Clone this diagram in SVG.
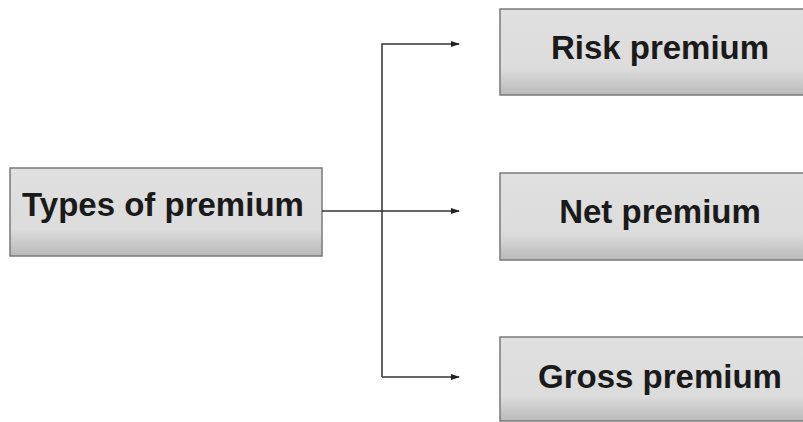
<svg xmlns="http://www.w3.org/2000/svg" width="803" height="422" viewBox="0 0 803 422">
<defs>
<linearGradient id="g" x1="0" y1="0" x2="0" y2="1">
<stop offset="0" stop-color="#e0e0e0"/>
<stop offset="0.7" stop-color="#dcdcdc"/>
<stop offset="1" stop-color="#b9b9b9"/>
</linearGradient>
<marker id="a" markerWidth="9" markerHeight="8" refX="8" refY="4" orient="auto" markerUnits="userSpaceOnUse">
<path d="M0,1 L9,4 L0,7 Z" fill="#222"/>
</marker>
<style>
.box{fill:url(#g);stroke:#7a7a7a;stroke-width:1.5}
.t{font-family:"Liberation Sans",Arial,sans-serif;font-weight:bold;font-size:33px;fill:#1a1a1a;text-anchor:middle}
.c{fill:none;stroke:#333;stroke-width:1.5}
</style>
</defs>
<rect width="803" height="422" fill="#fff"/>
<g id="types">
<rect class="box" x="10" y="168" width="312" height="88"/>
<text class="t" x="163" y="216">Types of premium</text>
</g>
<g id="risk">
<rect class="box" x="500" y="9" width="330" height="86"/>
<text class="t" x="660" y="59">Risk premium</text>
</g>
<g id="net">
<rect class="box" x="500" y="173" width="330" height="87"/>
<text class="t" x="660" y="223">Net premium</text>
</g>
<g id="gross">
<rect class="box" x="500" y="337" width="330" height="84"/>
<text class="t" x="660" y="388">Gross premium</text>
</g>
<g id="connectors">
<path class="c" d="M382,377 V44 H459" marker-end="url(#a)"/>
<path class="c" d="M382,377 H459" marker-end="url(#a)"/>
<path class="c" d="M322,211 H459" marker-end="url(#a)"/>
</g>
</svg>
